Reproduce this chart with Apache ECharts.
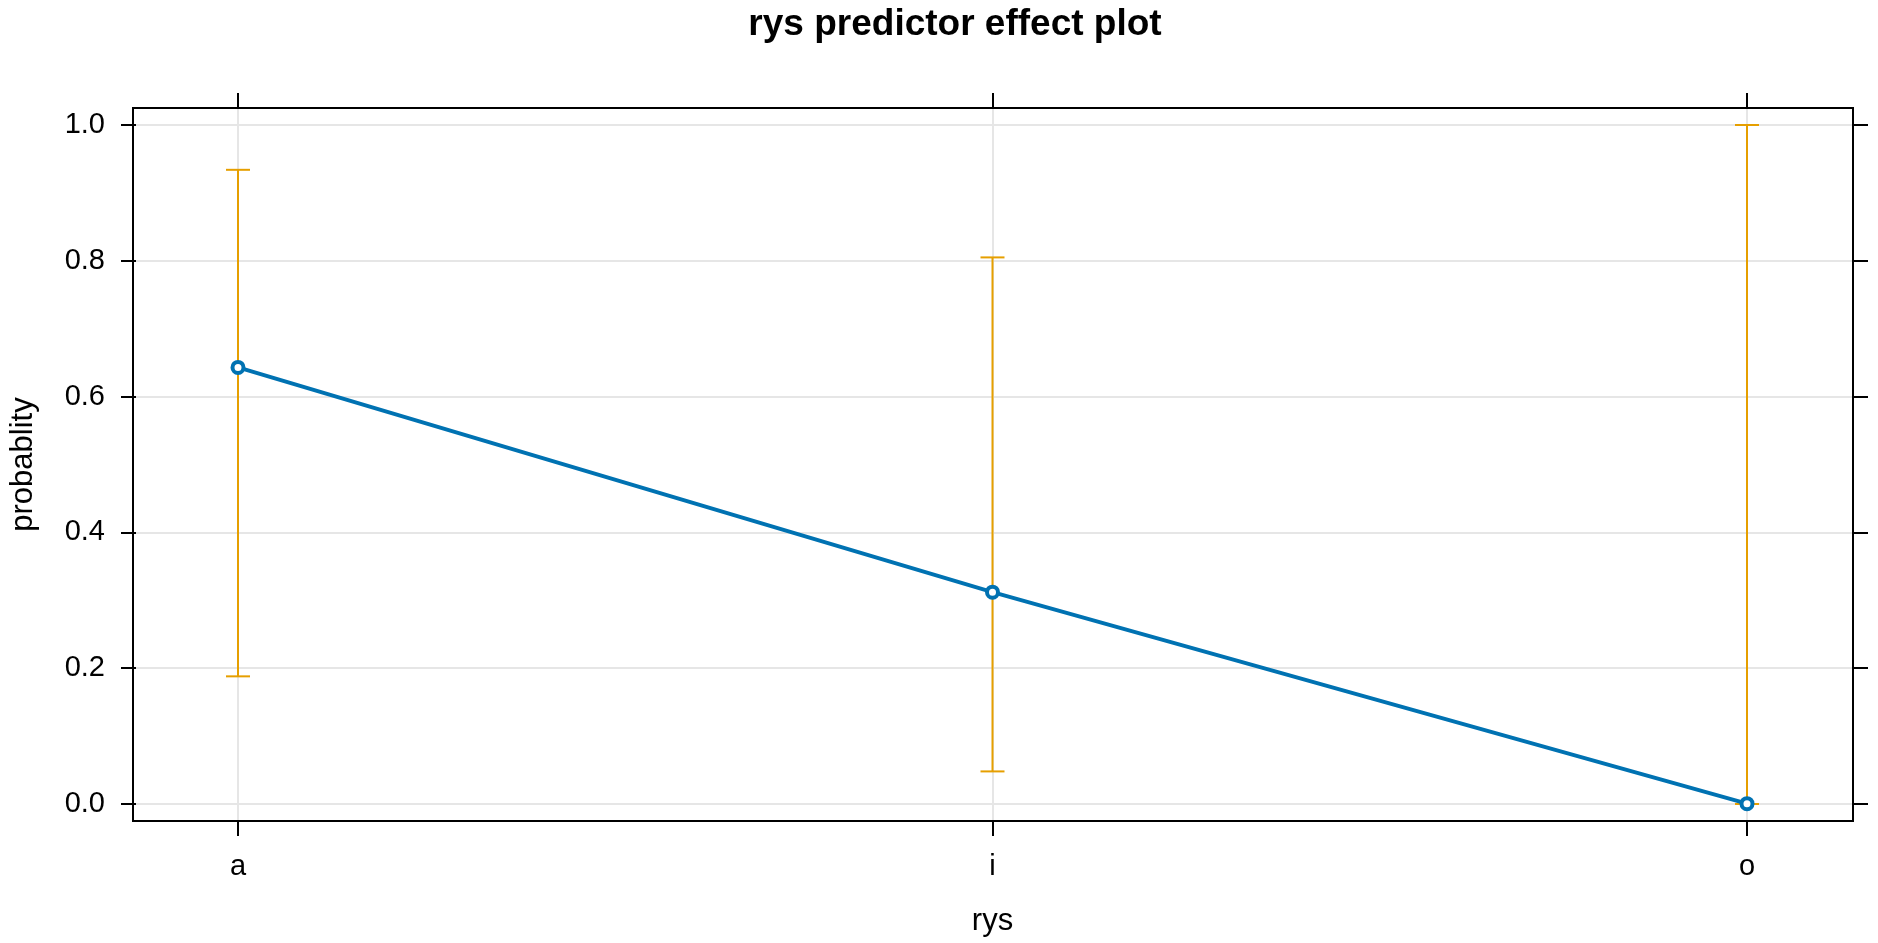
<!DOCTYPE html>
<html>
<head>
<meta charset="utf-8">
<script src="https://cdn.jsdelivr.net/npm/echarts@6/dist/echarts.min.js"></script>
<style>
html,body{margin:0;padding:0;background:#fff;}
#chart{width:1878px;height:943px;}
</style>
</head>
<body>
<div id="chart"></div>
<script>
const categories = ['a', 'i', 'o'];
const fitValues = [0.643, 0.312, 0.0005];
const lowerValues = [0.188, 0.048, 0.0];
const upperValues = [0.934, 0.805, 1.0];
const yTickValues = [0, 0.2, 0.4, 0.6, 0.8, 1.0];

const FONT = '"Liberation Sans", Arial, sans-serif';
const BLUE = '#0072B2';
const ORANGE = '#E69F00';
const GRIDC = '#E6E6E6';

const chart = echarts.init(document.getElementById('chart'), null, {renderer: 'canvas'});

const errData = categories.map((c, i) => [i, lowerValues[i], upperValues[i]]);

const option = {
  animation: false,
  backgroundColor: '#fff',
  title: {
    text: 'rys predictor effect plot',
    left: 950,
    top: 1,
    textAlign: 'center',
    textStyle: {fontFamily: FONT, fontSize: 37, fontWeight: 'bold', color: '#000'}
  },
  grid: [
    {left: 133, right: 25, top: 125, bottom: 139},
    {left: 238, right: 131, top: 108, bottom: 122},
    {left: 238, right: 131, top: 125, bottom: 139},
    {left: 133, right: 25, top: 108, bottom: 122, show: true, borderColor: '#000', borderWidth: 2, backgroundColor: 'transparent', z: 10}
  ],
  xAxis: [
    {gridIndex: 0, type: 'value', show: false},
    {
      gridIndex: 1, type: 'category', data: categories, boundaryGap: false, position: 'bottom',
      axisLine: {show: false},
      axisTick: {show: true, inside: false, length: 15, lineStyle: {color: '#000', width: 2}},
      axisLabel: {show: true, margin: 31, fontFamily: FONT, fontSize: 29, color: '#000'},
      splitLine: {show: true, lineStyle: {color: GRIDC, width: 2}},
      name: 'rys', nameLocation: 'middle', nameGap: 85,
      nameTextStyle: {fontFamily: FONT, fontSize: 31, color: '#000'}
    },
    {
      gridIndex: 1, type: 'category', data: categories, boundaryGap: false, position: 'top',
      axisLine: {show: false},
      axisTick: {show: true, inside: false, length: 15, lineStyle: {color: '#000', width: 2}},
      axisLabel: {show: false},
      splitLine: {show: false}
    },
    {gridIndex: 2, type: 'category', data: categories, boundaryGap: false, show: false},
    {gridIndex: 3, type: 'value', show: false}
  ],
  yAxis: [
    {
      gridIndex: 0, type: 'value', min: 0, max: 1, interval: 0.2, position: 'left',
      axisLine: {show: false},
      axisTick: {show: true, inside: false, length: 15, lineStyle: {color: '#000', width: 2}},
      axisLabel: {show: true, margin: 31, fontFamily: FONT, fontSize: 29, color: '#000',
        formatter: v => v.toFixed(1)},
      splitLine: {show: true, lineStyle: {color: GRIDC, width: 2}},
      name: 'probablity', nameLocation: 'middle', nameGap: 97, nameRotate: 90,
      nameTextStyle: {fontFamily: FONT, fontSize: 31, color: '#000'}
    },
    {
      gridIndex: 0, type: 'value', min: 0, max: 1, interval: 0.2, position: 'right',
      axisLine: {show: false},
      axisTick: {show: true, inside: false, length: 15, lineStyle: {color: '#000', width: 2}},
      axisLabel: {show: false},
      splitLine: {show: false}
    },
    {gridIndex: 1, type: 'value', show: false},
    {gridIndex: 2, type: 'value', min: 0, max: 1, show: false},
    {gridIndex: 3, type: 'value', show: false}
  ],
  series: [
    {
      type: 'custom',
      xAxisIndex: 3, yAxisIndex: 3,
      z: 3,
      data: errData,
      renderItem: function (params, api) {
        const x = api.value(0);
        const lo = api.coord([x, api.value(1)]);
        const hi = api.coord([x, api.value(2)]);
        const hw = 12;
        const style = {stroke: ORANGE, lineWidth: 2, fill: null};
        return {
          type: 'group',
          children: [
            {type: 'line', shape: {x1: lo[0], y1: lo[1], x2: hi[0], y2: hi[1]}, style: style},
            {type: 'line', shape: {x1: lo[0] - hw, y1: lo[1], x2: lo[0] + hw, y2: lo[1]}, style: style},
            {type: 'line', shape: {x1: hi[0] - hw, y1: hi[1], x2: hi[0] + hw, y2: hi[1]}, style: style}
          ]
        };
      }
    },
    {
      type: 'line',
      xAxisIndex: 3, yAxisIndex: 3,
      z: 5,
      data: fitValues,
      symbol: 'circle',
      symbolSize: 11,
      showSymbol: true,
      lineStyle: {color: BLUE, width: 4},
      itemStyle: {color: '#fff', borderColor: BLUE, borderWidth: 4},
      emphasis: {disabled: true}
    }
  ]
};

chart.setOption(option);
</script>
</body>
</html>
